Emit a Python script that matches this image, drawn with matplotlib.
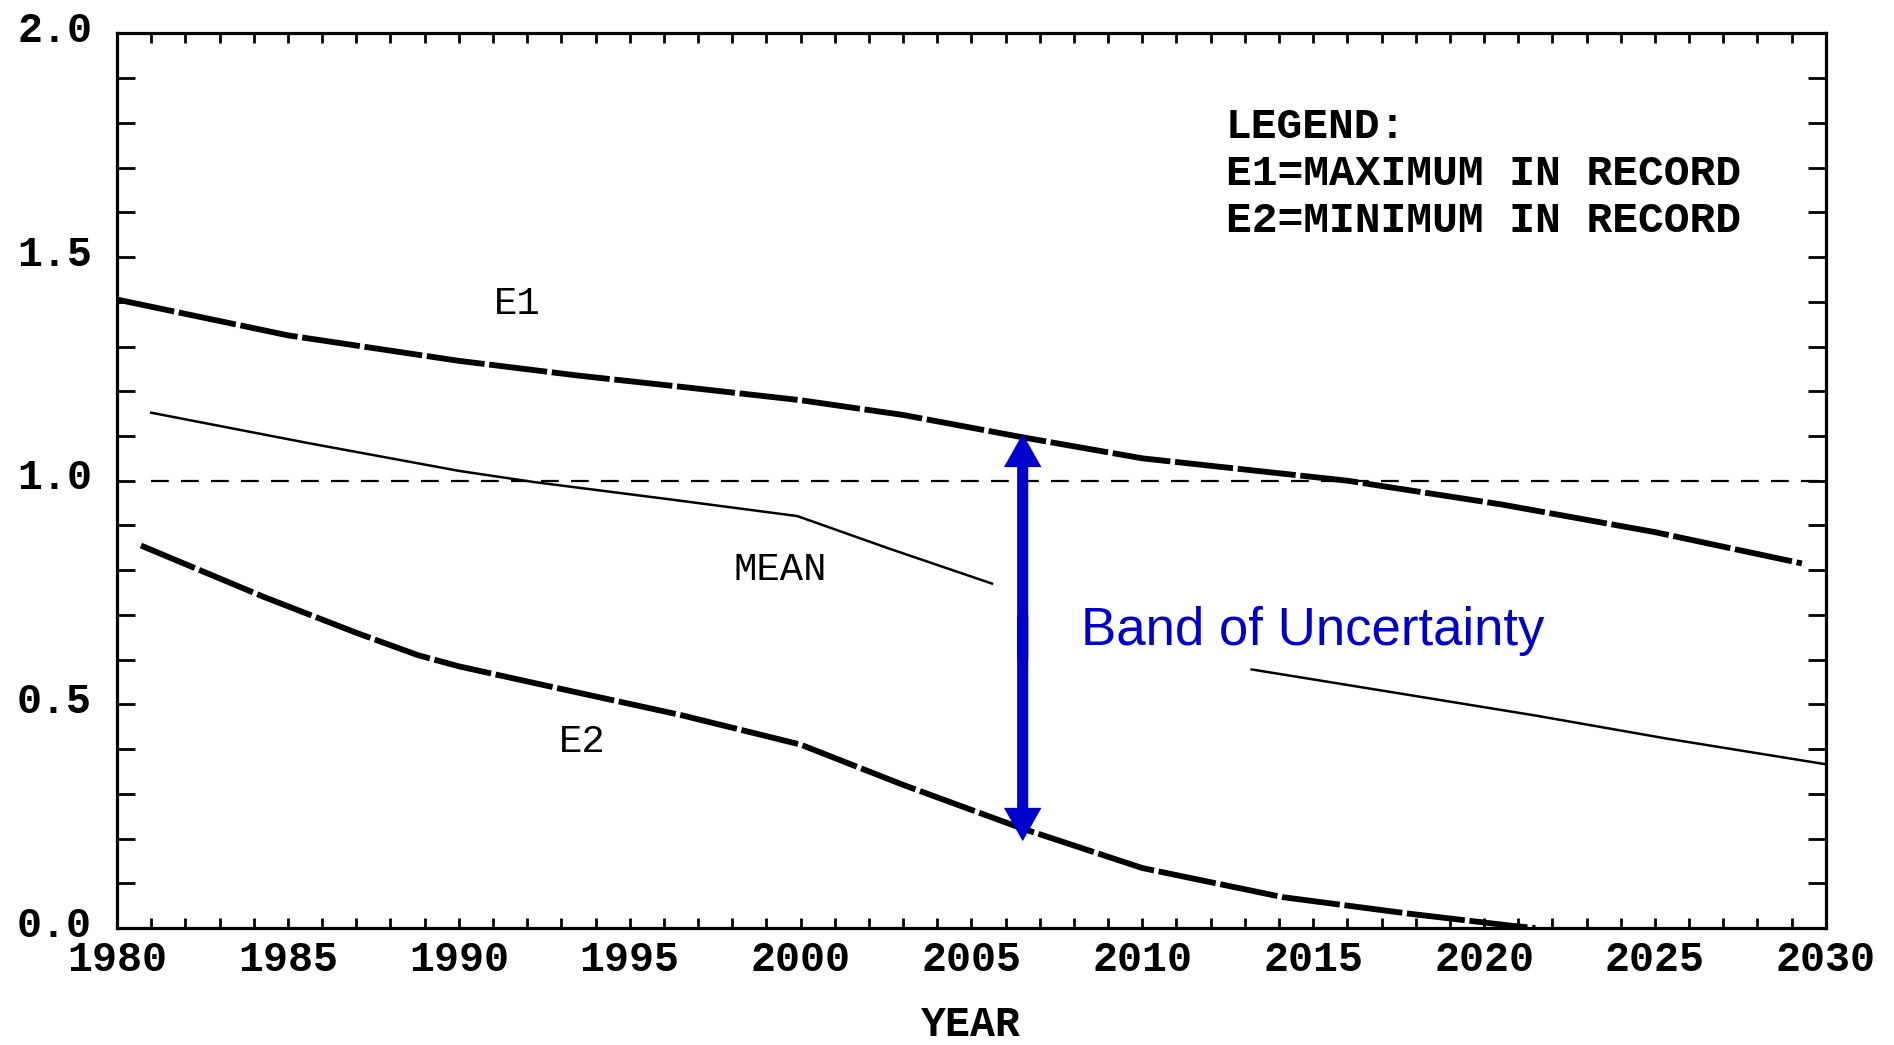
import numpy as np
import matplotlib
matplotlib.use("Agg")
import matplotlib.pyplot as plt
from matplotlib.ticker import MultipleLocator
from matplotlib.transforms import ScaledTranslation

# values
e1_years = [1980, 1985, 1990, 1993.5, 1996.5, 2000, 2003, 2006.5, 2010, 2016, 2020.5, 2025, 2029.3]
e1_vals = [1.405, 1.325, 1.268, 1.235, 1.21, 1.18, 1.147, 1.097, 1.05, 1.0, 0.947, 0.885, 0.815]

e2_years = [1980.7, 1984.3, 1987, 1988.8, 1990, 1992.9, 1996.5, 2000, 2003, 2006.5, 2010, 2014.1, 2017.8, 2020.8, 2021.5]
e2_vals = [0.855, 0.74, 0.66, 0.61, 0.585, 0.536, 0.476, 0.41, 0.32, 0.222, 0.134, 0.069, 0.032, 0.005, 0.0]

# mean line is broken where the "Band of Uncertainty" note sits
mean_years = [1981, 1985.6, 1988.3, 1990, 1992.2, 1996.1, 1999.9, 2002.6, 2005.6, np.nan,
              2013.2, 2017.8, 2021.5, 2025.3, 2030]
mean_vals = [1.152, 1.084, 1.046, 1.022, 0.997, 0.959, 0.921, 0.848, 0.77, np.nan,
             0.578, 0.521, 0.475, 0.424, 0.366]

ref_years = [1981, 2030]
ref_vals = [1.0, 1.0]

band_year = 2006.5
band_top, band_bottom = 1.105, 0.194

legend_lines = ["LEGEND:", "E1=MAXIMUM IN RECORD", "E2=MINIMUM IN RECORD"]

mono = "Liberation Mono"
blue = "#0000cc"

fig = plt.figure(figsize=(18.94, 10.45), dpi=100)
ax = fig.add_axes([0.0618, 0.112, 0.9022, 0.856])

ax.plot(e1_years, e1_vals, color="black", lw=4.2, dashes=(10, 0.8), solid_capstyle="butt")
ax.plot(e2_years, e2_vals, color="black", lw=4.2, dashes=(10, 0.8), solid_capstyle="butt")
ax.plot(mean_years, mean_vals, color="black", lw=1.8)
ax.plot(ref_years, ref_vals, color="black", lw=1.6, dashes=(8, 5.5))

ax.set_xlim(1980, 2030)
ax.set_ylim(0, 2.0)

ax.xaxis.set_major_locator(MultipleLocator(5))
ax.xaxis.set_minor_locator(MultipleLocator(1))
ax.yaxis.set_major_locator(MultipleLocator(0.5))
ax.yaxis.set_minor_locator(MultipleLocator(0.1))
ax.yaxis.set_major_formatter(plt.FormatStrFormatter("%.1f"))

ax.tick_params(axis="x", which="both", direction="in", top=True, bottom=True,
               length=7, width=2, pad=9)
ax.tick_params(axis="y", which="both", direction="in", left=True, right=True,
               length=13, width=2, pad=18)
for lab in ax.get_xticklabels() + ax.get_yticklabels():
    lab.set_fontfamily(mono)
    lab.set_fontsize(30)
    lab.set_fontweight("bold")
# y labels sit a little above their ticks in the original
shift_up = ScaledTranslation(0, 5 / 72, fig.dpi_scale_trans)
for lab in ax.get_yticklabels():
    lab.set_transform(lab.get_transform() + shift_up)
for sp in ax.spines.values():
    sp.set_linewidth(2.3)

ax.set_xlabel("YEAR", fontfamily=mono, fontsize=30, fontweight="bold")
ax.xaxis.set_label_coords(0.5, -0.108)
ax.xaxis.label.set_va("center")

# curve labels
ax.text(1991.7, 1.394, "E1", fontfamily=mono, fontsize=28, ha="center", va="center")
ax.text(1993.6, 0.416, "E2", fontfamily=mono, fontsize=28, ha="center", va="center")
ax.text(1999.4, 0.80, "MEAN", fontfamily=mono, fontsize=28, ha="center", va="center")

for i, line in enumerate(legend_lines):
    ax.text(2012.45, 1.79 - i * 0.105, line, fontfamily=mono, fontsize=31,
            fontweight="bold", ha="left", va="center")

# double headed arrow showing the band, drawn as two overlapping halves
mid = (band_top + band_bottom) / 2
arrow_kw = dict(arrowstyle="simple,head_length=24,head_width=27,tail_width=8",
                mutation_scale=1, color=blue, lw=0, shrinkA=0, shrinkB=0)
ax.annotate("", xy=(band_year, band_top), xytext=(band_year, mid - 0.05), arrowprops=arrow_kw)
ax.annotate("", xy=(band_year, band_bottom), xytext=(band_year, mid + 0.05), arrowprops=arrow_kw)

ax.text(2008.2, 0.632, "Band of Uncertainty", color=blue, fontfamily="Liberation Sans",
        fontsize=38, ha="left", va="baseline")

fig.savefig("out.png", dpi=100)
